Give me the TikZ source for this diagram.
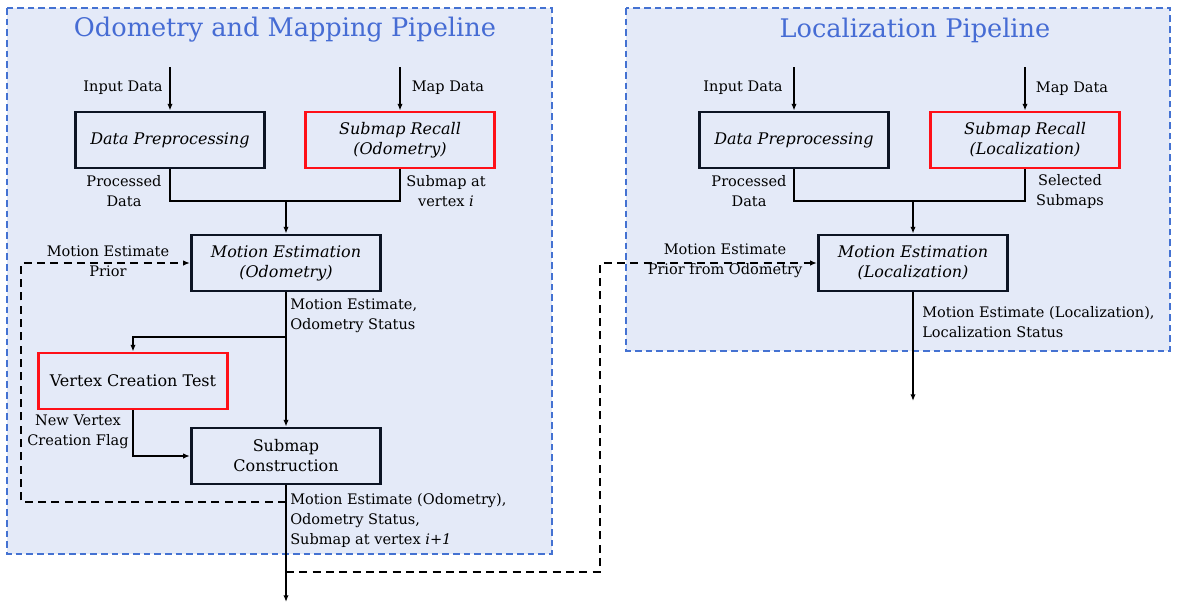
\documentclass[tikz,border=0pt]{standalone}
\usepackage{fontspec}
\setmainfont{DejaVu Serif}
\usetikzlibrary{arrows.meta}

\definecolor{panefill}{RGB}{228,234,248}
\definecolor{paneline}{RGB}{68,114,210}
\definecolor{titleblue}{RGB}{70,108,212}
\definecolor{boxred}{RGB}{255,16,24}
\definecolor{boxdark}{RGB}{12,20,36}

\begin{document}
\begin{tikzpicture}[x=0.75pt,y=-0.75pt,
    pane/.style={draw=paneline,fill=panefill,line width=1.3pt,dash pattern=on 5pt off 3pt},
    title/.style={text=titleblue,font=\fontsize{19.2}{23}\selectfont},
    box/.style={draw=boxdark,line width=2.2pt,minimum width=142pt,minimum height=42pt,
      align=center,font=\fontsize{12}{15}\selectfont},
    recall/.style={box,draw=boxred},
    lbl/.style={font=\fontsize{10.9}{15}\selectfont,align=center,inner sep=0pt},
    lblleft/.style={lbl,align=left,anchor=north west},
    link/.style={line width=1.2pt},
    flow/.style={link,-{Latex[length=5pt,width=4pt]}},
    prior/.style={flow,dash pattern=on 6pt off 4pt}]

  \useasboundingbox (0,0) rectangle (1177,608);

  % the two pipelines
  \draw[pane] (7,8) rectangle (552,554);
  \draw[pane] (626,8) rectangle (1170,351);
  \node[title] (t1) at (285,30) {Odometry and Mapping Pipeline};
  \node[title] (t2) at (915,30) {Localization Pipeline};

  % odometry and mapping
  \node[box]    (dp1) at (170,140) {\itshape Data Preprocessing};
  \node[recall] (sr1) at (400,140) {\itshape Submap Recall\\\itshape (Odometry)};
  \node[box]    (me1) at (286,263) {\itshape Motion Estimation\\\itshape (Odometry)};
  \node[recall] (vt)  at (133,381) {Vertex Creation Test};
  \node[box]    (sc)  at (286,456) {Submap\\Construction};

  \coordinate (in1)  at (170,67);
  \coordinate (map1) at (400,67);
  \coordinate (j1)   at (286,201);
  \coordinate (b1)   at (286,337);
  \coordinate (fb1)  at (286,502);
  \coordinate (fb2)  at (21,263);
  \coordinate (fb3)  at (286,572);
  \coordinate (fb4)  at (600,263);
  \coordinate (out1) at (286,602);

  \draw[flow] (in1) -- (dp1);
  \draw[flow] (map1) -- (sr1);
  \draw[link] (dp1) |- (j1);
  \draw[link] (sr1) |- (j1);
  \draw[flow] (j1) -- (me1);
  \draw[flow] (me1) -- (sc);
  \draw[flow] (b1) -| (vt);
  \draw[flow] (vt) |- (sc);
  \draw[flow] (sc) -- (out1);
  \draw[prior] (fb1) -| (fb2) -- (me1);

  \node[lbl] (l1) at (123,88)  {Input Data};
  \node[lbl] (l2) at (448,88)  {Map Data};
  \node[lbl] (l3) at (124,191) {Processed\\Data};
  \node[lbl] (l4) at (446,191) {Submap at\\vertex \textit{i}};
  \node[lbl] (l5) at (108,261) {Motion Estimate\\Prior};
  \node[lblleft] (l6) at (290,299) {Motion Estimate,\\Odometry Status};
  \node[lbl] (l7) at (78,432)  {New Vertex\\Creation Flag};
  \node[lblleft] (l8) at (290,493) {Motion Estimate (Odometry),\\Odometry Status,\\Submap at vertex \textit{i+1}};

  % localization
  \node[box]    (dp2) at (794,140) {\itshape Data Preprocessing};
  \node[recall] (sr2) at (1025,140) {\itshape Submap Recall\\\itshape (Localization)};
  \node[box]    (me2) at (913,263) {\itshape Motion Estimation\\\itshape (Localization)};

  \coordinate (in2)  at (794,67);
  \coordinate (map2) at (1025,67);
  \coordinate (j2)   at (913,201);
  \coordinate (out2) at (913,401);

  \draw[flow] (in2) -- (dp2);
  \draw[flow] (map2) -- (sr2);
  \draw[link] (dp2) |- (j2);
  \draw[link] (sr2) |- (j2);
  \draw[flow] (j2) -- (me2);
  \draw[flow] (me2) -- (out2);
  \draw[prior] (fb3) -| (fb4) -- (me2);

  \node[lbl] (l9)  at (743,88)  {Input Data};
  \node[lbl] (l10) at (1072,89) {Map Data};
  \node[lbl] (l11) at (749,191) {Processed\\Data};
  \node[lbl] (l12) at (1070,191) {Selected\\Submaps};
  \node[lbl] (l13) at (725,261) {Motion Estimate\\Prior from Odometry};
  \node[lblleft] (l14) at (922,306) {Motion Estimate (Localization),\\Localization Status};

\end{tikzpicture}
\end{document}
